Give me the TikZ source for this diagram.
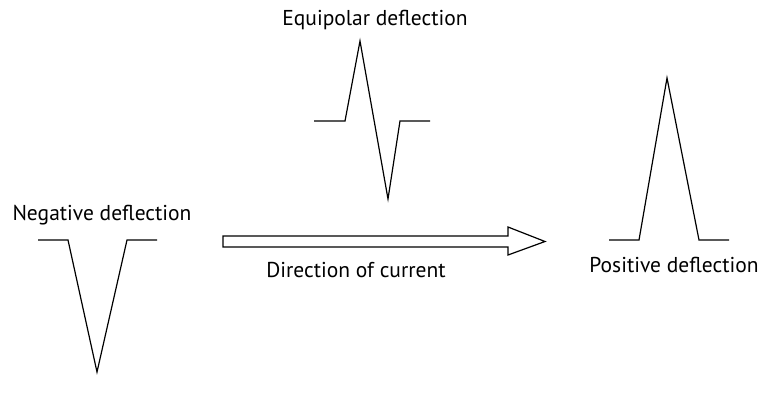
\documentclass[tikz,border=0pt]{standalone}
\usepackage{fontspec}
\setmainfont{PT Sans}
\begin{document}
\begin{tikzpicture}[x=1pt,y=-1pt,
  wave/.style={line width=1.2pt, line join=miter},
  lbl/.style={font=\fontsize{21.5}{25}\selectfont, inner sep=0pt}]
\useasboundingbox (0,0) rectangle (759,402);
% Equipolar
\node[lbl] (eqt) at (375,20) {Equipolar deflection};
\coordinate (e1) at (314,121);
\coordinate (e2) at (345,121);
\coordinate (e3) at (360,41);
\coordinate (e4) at (388,199);
\coordinate (e5) at (400,121);
\coordinate (e6) at (430,121);
\draw[wave] (e1) -- (e2) -- (e3) -- (e4) -- (e5) -- (e6);
% Negative
\node[lbl] (negt) at (102,215) {Negative deflection};
\coordinate (n1) at (38,240);
\coordinate (n2) at (68,240);
\coordinate (n3) at (97,372);
\coordinate (n4) at (127,240);
\coordinate (n5) at (157,240);
\draw[wave] (n1) -- (n2) -- (n3) -- (n4) -- (n5);
% Positive
\node[lbl] (post) at (674,265) {Positive deflection};
\coordinate (p1) at (609,240);
\coordinate (p2) at (639,240);
\coordinate (p3) at (667,78);
\coordinate (p4) at (699,240);
\coordinate (p5) at (729,240);
\draw[wave] (p1) -- (p2) -- (p3) -- (p4) -- (p5);
% Arrow
\coordinate (a1) at (223,236);
\coordinate (a2) at (508,236);
\coordinate (a3) at (508,227);
\coordinate (a4) at (545,241.5);
\coordinate (a5) at (508,255);
\coordinate (a6) at (508,247);
\coordinate (a7) at (223,247);
\draw[wave] (a1) -- (a2) -- (a3) -- (a4) -- (a5) -- (a6) -- (a7) -- cycle;
\node[lbl] (dirt) at (356,270) {Direction of current};
\end{tikzpicture}
\end{document}
